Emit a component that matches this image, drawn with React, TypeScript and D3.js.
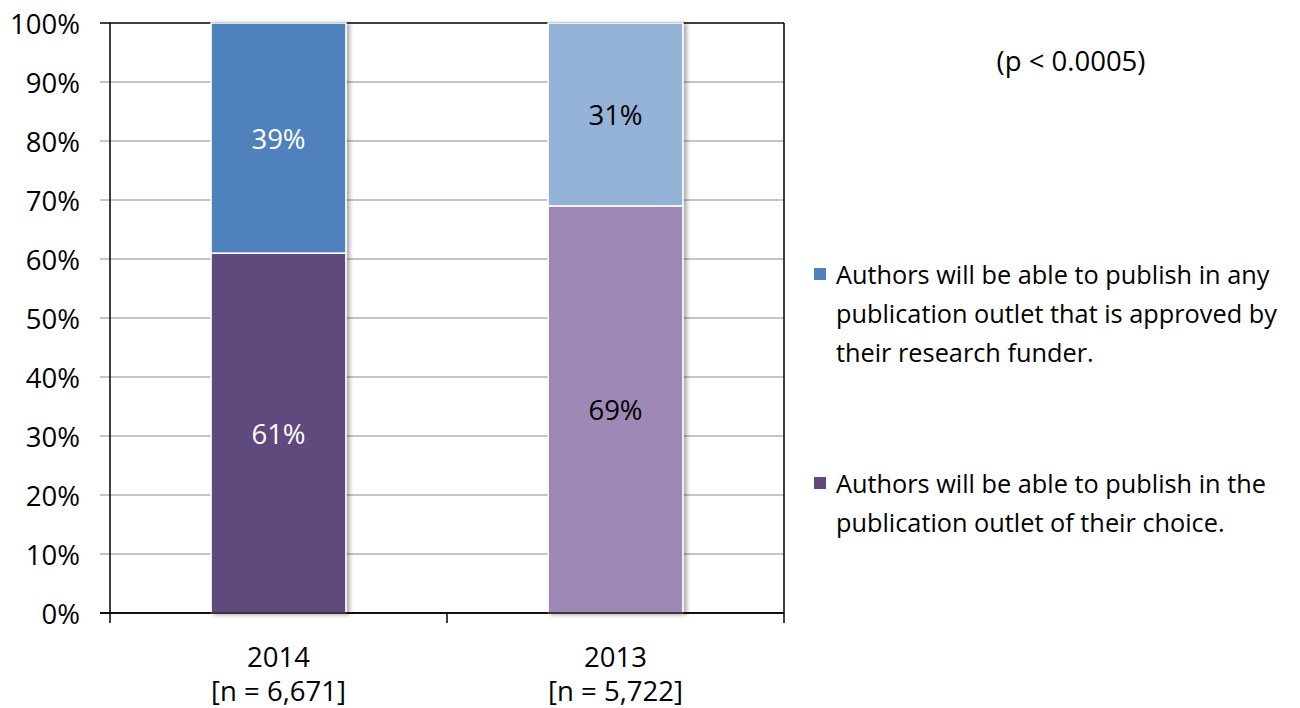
import React from "react";
import * as d3 from "d3";

const categories = ["2014", "2013"];
const sampleSizes = ["[n = 6,671]", "[n = 5,722]"];
const choiceValues = [61, 69];
const funderValues = [39, 31];
const yTicks = [0, 10, 20, 30, 40, 50, 60, 70, 80, 90, 100];
const legendFunder = ["Authors will be able to publish in any", "publication outlet that is approved by", "their research funder."];
const legendChoice = ["Authors will be able to publish in the", "publication outlet of their choice."];
const note = "(p < 0.0005)";

const W = 1300;
const H = 708;
const FONT = "'Open Sans', Lato, sans-serif";
const FS = 27.5;
const LFS = 25.3;

export default function App() {
  const left = 110, right = 784, top = 23, bottom = 613;
  const x = d3.scaleBand().domain(categories).range([left, right]).paddingInner(0.6).paddingOuter(0.3);
  const y = d3.scaleLinear().domain([0, 100]).range([bottom, top]);

  const darkColors = { choice: "#604A7B", funder: "#4F81BD" };
  const lightColors = { choice: "#9E88B6", funder: "#95B3D7" };

  const bw = x.bandwidth();

  return (
    <svg width={W} height={H} style={{ position: "absolute", left: 0, top: 0, background: "#fff" }} fontFamily={FONT}>
      <defs>
        <filter id="shadow" x="-10%" y="-5%" width="130%" height="110%">
          <feDropShadow dx="3" dy="1" stdDeviation="2" floodColor="#000" floodOpacity="0.35" />
        </filter>
      </defs>
      {/* gridlines */}
      {yTicks.map((t) => (
        <line key={"g" + t} x1={left - 10} x2={right} y1={y(t)} y2={y(t)}
          stroke={t === 100 || t === 0 ? "#000" : "#8c8c8c"} strokeWidth={t === 0 || t === 100 ? 1.5 : 1.2} />
      ))}
      {/* plot frame */}
      <line x1={left} x2={left} y1={top} y2={bottom} stroke="#000" strokeWidth={1.5} />
      <line x1={right} x2={right} y1={top} y2={bottom} stroke="#000" strokeWidth={1.5} />
      {/* y tick labels */}
      {yTicks.map((t) => (
        <text key={"yl" + t} x={80} y={y(t)} textAnchor="end" dominantBaseline="central" fontSize={FS} fill="#000">
          {t}%
        </text>
      ))}
      {/* x ticks */}
      {[left, (left + right) / 2, right].map((px, i) => (
        <line key={"xt" + i} x1={px} x2={px} y1={bottom} y2={bottom + 10} stroke="#000" strokeWidth={1.5} />
      ))}
      {/* bars */}
      {categories.map((c, i) => {
        const cols = i === 0 ? darkColors : lightColors;
        const x0 = x(c)!;
        const c0 = choiceValues[i];
        const f1 = c0 + funderValues[i];
        const labelFill = i === 0 ? "#fff" : "#000";
        return (
          <g key={c}>
            <g filter="url(#shadow)">
              <rect x={x0} y={y(c0)} width={bw} height={y(0) - y(c0)} fill={cols.choice} stroke="#fff" strokeWidth={1.5} />
              <rect x={x0} y={y(f1)} width={bw} height={y(c0) - y(f1)} fill={cols.funder} stroke="#fff" strokeWidth={1.5} />
            </g>
            <text x={x0 + bw / 2} y={y(c0 / 2)} textAnchor="middle" dominantBaseline="central" fontSize={FS} fill={labelFill}>
              {c0}%
            </text>
            <text x={x0 + bw / 2} y={y(c0 + funderValues[i] / 2)} textAnchor="middle" dominantBaseline="central" fontSize={FS} fill={labelFill}>
              {funderValues[i]}%
            </text>
            <text x={x0 + bw / 2} y={656} textAnchor="middle" dominantBaseline="central" fontSize={FS} fill="#000">{c}</text>
            <text x={x0 + bw / 2} y={690} textAnchor="middle" dominantBaseline="central" fontSize={FS} fill="#000">{sampleSizes[i]}</text>
          </g>
        );
      })}
      {/* baseline drawn over the bars */}
      <line x1={left - 10} x2={right} y1={bottom} y2={bottom} stroke="#000" strokeWidth={1.5} />
      {/* significance note */}
      <text x={1071} y={60} textAnchor="middle" dominantBaseline="central" fontSize={FS} fill="#000">{note}</text>
      {/* legend */}
      <rect x={814} y={268} width={12} height={12} fill={darkColors.funder} />
      {legendFunder.map((l, i) => (
        <text key={"lf" + i} x={836} y={274 + i * 39} dominantBaseline="central" fontSize={LFS} fill="#000">{l}</text>
      ))}
      <rect x={814} y={477} width={12} height={12} fill={darkColors.choice} />
      {legendChoice.map((l, i) => (
        <text key={"lc" + i} x={836} y={483 + i * 39} dominantBaseline="central" fontSize={LFS} fill="#000">{l}</text>
      ))}
    </svg>
  );
}
